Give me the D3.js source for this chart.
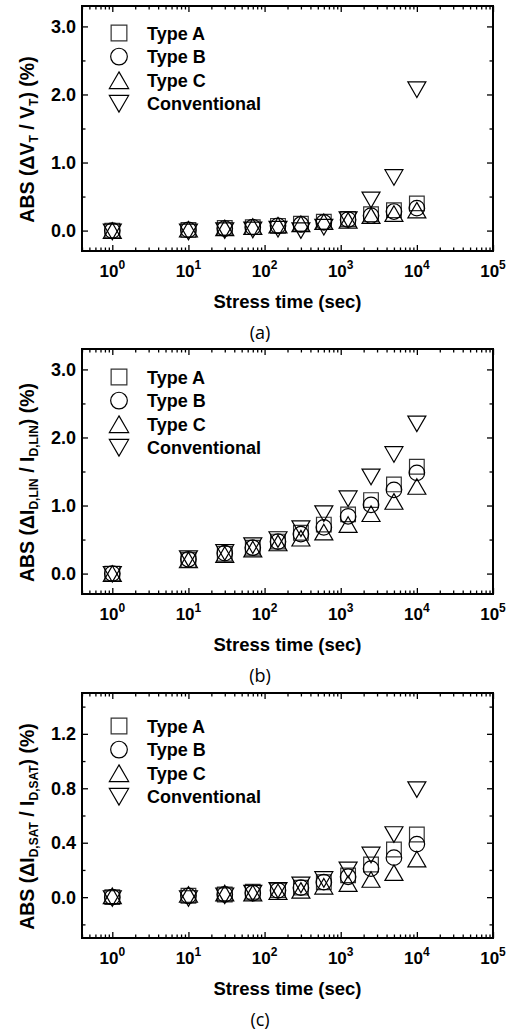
<!DOCTYPE html>
<html>
<head>
<meta charset="utf-8">
<script src="https://cdn.jsdelivr.net/npm/d3@7"></script>
<style>
  body { margin: 0; background: #fff; }
  text { font-family: "Liberation Sans", Arial, sans-serif; font-weight: bold; fill: #000; }
  .panel-tag { font-family: "Open Sans", sans-serif; font-weight: normal; }
  .tick line { stroke: #000; stroke-width: 1.3; }
</style>
</head>
<body>
<svg id="chart" width="511" height="1032"></svg>
<script>
// ---- data ----
const stressTimes = [1, 10, 30, 70, 150, 300, 600, 1250, 2500, 5000, 10000];
const seriesNames = ['Type A', 'Type B', 'Type C', 'Conventional'];

// (a) ABS(dVT/VT) %
const vtTypeA = [0, 0.01, 0.04, 0.05, 0.07, 0.10, 0.13, 0.17, 0.24, 0.30, 0.40];
const vtTypeB = [0, 0.01, 0.03, 0.05, 0.07, 0.09, 0.12, 0.16, 0.22, 0.28, 0.33];
const vtTypeC = [0, 0.02, 0.04, 0.06, 0.08, 0.10, 0.13, 0.15, 0.22, 0.25, 0.30];
const vtConv  = [-0.02, -0.02, 0.0, 0.01, 0.02, 0.0, 0.05, 0.16, 0.45, 0.78, 2.07];

// (b) ABS(dID,LIN/ID,LIN) %
const linTypeA = [0, 0.20, 0.29, 0.38, 0.47, 0.60, 0.72, 0.87, 1.08, 1.31, 1.57];
const linTypeB = [0, 0.21, 0.30, 0.38, 0.47, 0.58, 0.68, 0.84, 1.01, 1.23, 1.48];
const linTypeC = [0, 0.20, 0.28, 0.36, 0.45, 0.52, 0.61, 0.72, 0.88, 1.06, 1.28];
const linConv  = [-0.01, 0.22, 0.31, 0.41, 0.50, 0.66, 0.88, 1.10, 1.42, 1.75, 2.20];

// (c) ABS(dID,SAT/ID,SAT) %
const satTypeA = [0, 0.01, 0.02, 0.04, 0.05, 0.07, 0.11, 0.16, 0.24, 0.35, 0.46];
const satTypeB = [0, 0.01, 0.02, 0.03, 0.05, 0.07, 0.11, 0.15, 0.21, 0.29, 0.39];
const satTypeC = [0.01, 0.02, 0.03, 0.03, 0.04, 0.05, 0.08, 0.10, 0.13, 0.18, 0.28];
const satConv  = [-0.01, -0.01, 0.01, 0.03, 0.05, 0.09, 0.13, 0.20, 0.31, 0.46, 0.79];

const xTickExps = [0, 1, 2, 3, 4, 5];
const yTicksWide = [0, 1, 2, 3];
const yMinorWide = [0.5, 1.5, 2.5];
const yTicksSat = [0, 0.4, 0.8, 1.2];
const yMinorSat = [-0.2, 0.2, 0.6, 1.0, 1.4];

// ---- layout ----
const LEFT = 82;
const W = 411;
const H = 245;

const svg = d3.select('#chart');

const symbolTypes = [
  { type: d3.symbolSquare, size: 215, rot: 0 },
  { type: d3.symbolCircle, size: 190, rot: 0 },
  { type: d3.symbolTriangle, size: 140, rot: 0 },
  { type: d3.symbolTriangle, size: 140, rot: 180 },
];

// d3 centres triangles on the centroid; shift so the bounding box is centred (like Origin)
function symbolShift(st, size) {
  if (st.type !== d3.symbolTriangle) return 0;
  return Math.sqrt(size / (3 * Math.sqrt(3))) / 2;
}

function markerTransform(cx, cy, st, size) {
  return 'translate(' + cx + ',' + cy + ') rotate(' + st.rot + ') translate(0,' + symbolShift(st, size) + ')';
}

function addRichText(sel, parts, size, subSize) {
  let shifted = false;
  parts.forEach((p) => {
    const t = sel.append('tspan').text(p.t);
    if (p.sub && !shifted) { t.attr('dy', 4).attr('font-size', subSize); shifted = true; }
    else if (p.sub) { t.attr('font-size', subSize); }
    else if (shifted) { t.attr('dy', -4).attr('font-size', size); shifted = false; }
    else { t.attr('font-size', size); }
  });
}

function drawPanel(p) {
  const g = svg.append('g').attr('transform', 'translate(' + LEFT + ',' + p.top + ')');

  const x = d3.scaleLog().domain([0.4, 1e5]).range([0, W]);
  const y = d3.scaleLinear().domain(p.yDomain).range([H, 0]);

  const majorX = xTickExps.map((e) => Math.pow(10, e));
  const minorX = [];
  for (let e = -1; e <= 4; e++) {
    for (let k = 2; k <= 9; k++) {
      const v = k * Math.pow(10, e);
      if (v >= 0.4 && v <= 1e5) minorX.push(v);
    }
  }

  // tick marks, all pointing inward
  const axes = [
    [d3.axisBottom(x).tickValues(majorX).tickSize(-6), 'translate(0,' + H + ')'],
    [d3.axisBottom(x).tickValues(minorX).tickSize(-3.5), 'translate(0,' + H + ')'],
    [d3.axisTop(x).tickValues(majorX).tickSize(-6), null],
    [d3.axisTop(x).tickValues(minorX).tickSize(-3.5), null],
    [d3.axisRight(y).tickValues(p.yMajor).tickSize(-6), 'translate(' + W + ',0)'],
    [d3.axisRight(y).tickValues(p.yMinor).tickSize(-3.5), 'translate(' + W + ',0)'],
    [d3.axisLeft(y).tickValues(p.yMinor).tickSize(-3.5), null],
  ];
  axes.forEach(([ax, tr]) => {
    const a = g.append('g').call(ax.tickFormat(''));
    if (tr) a.attr('transform', tr);
    a.select('.domain').remove();
  });

  const left = g.append('g')
    .call(d3.axisLeft(y).tickValues(p.yMajor).tickSize(-6).tickPadding(6).tickFormat(d3.format('.1f')));
  left.select('.domain').remove();
  left.selectAll('text')
    .attr('font-family', '"Liberation Sans", Arial, sans-serif')
    .attr('font-size', 18)
    .attr('font-weight', 'bold')
    .attr('dy', '0.34em');

  // x tick labels 10^n
  xTickExps.forEach((e) => {
    const t = g.append('text')
      .attr('x', x(Math.pow(10, e)))
      .attr('y', H + 26)
      .attr('text-anchor', 'middle');
    t.append('tspan').attr('font-size', 17).text('10');
    t.append('tspan').attr('font-size', 12).attr('dy', -8).text(e);
  });

  // frame
  g.append('rect')
    .attr('width', W).attr('height', H)
    .attr('fill', 'none').attr('stroke', '#000').attr('stroke-width', 2);

  // markers
  p.series.forEach((vals, si) => {
    const st = symbolTypes[si];
    const sym = d3.symbol().type(st.type).size(st.size);
    g.append('g').selectAll('path')
      .data(vals.map((v, i) => ({ t: stressTimes[i], v: v })))
      .enter().append('path')
      .attr('d', sym)
      .attr('transform', (d) => markerTransform(x(d.t), y(d.v), st, st.size))
      .attr('fill', 'none')
      .attr('stroke', si === 0 ? '#333' : '#000')
      .attr('stroke-width', 1.2);
  });

  // legend
  seriesNames.forEach((name, i) => {
    const st = symbolTypes[i];
    const ly = p.legendTop + i * 23.6;
    const lsize = st.size * 1.15;
    g.append('path')
      .attr('d', d3.symbol().type(st.type).size(lsize))
      .attr('transform', markerTransform(37, ly, st, lsize))
      .attr('fill', 'none')
      .attr('stroke', i === 0 ? '#333' : '#000')
      .attr('stroke-width', 1.2);
    g.append('text')
      .attr('x', 65).attr('y', ly + 6.5)
      .attr('font-size', 18)
      .text(name);
  });

  // axis titles
  g.append('text')
    .attr('x', W / 2).attr('y', H + 57)
    .attr('text-anchor', 'middle')
    .attr('font-size', 18.5)
    .text('Stress time (sec)');

  const yt = svg.append('text')
    .attr('text-anchor', 'middle')
    .attr('transform', 'translate(33.5,' + (p.top + H / 2 + 11) + ') rotate(-90)');
  addRichText(yt, p.yTitle, 19.5, 12);

  svg.append('text')
    .attr('class', 'panel-tag')
    .attr('x', 260).attr('y', p.top + H + 88)
    .attr('text-anchor', 'middle')
    .attr('font-size', 18)
    .text(p.tag);
}

drawPanel({
  top: 6, yDomain: [-0.3, 3.3], yMajor: yTicksWide, yMinor: yMinorWide,
  series: [vtTypeA, vtTypeB, vtTypeC, vtConv], legendTop: 27, tag: '(a)',
  yTitle: [{ t: 'ABS (\u0394V' }, { t: 'T', sub: true }, { t: ' / V' }, { t: 'T', sub: true }, { t: ') (%)' }],
});
drawPanel({
  top: 349, yDomain: [-0.3, 3.3], yMajor: yTicksWide, yMinor: yMinorWide,
  series: [linTypeA, linTypeB, linTypeC, linConv], legendTop: 28, tag: '(b)',
  yTitle: [{ t: 'ABS (\u0394I' }, { t: 'D,LIN', sub: true }, { t: ' / I' }, { t: 'D,LIN', sub: true }, { t: ') (%)' }],
});
drawPanel({
  top: 693, yDomain: [-0.3, 1.5], yMajor: yTicksSat, yMinor: yMinorSat,
  series: [satTypeA, satTypeB, satTypeC, satConv], legendTop: 33, tag: '(c)',
  yTitle: [{ t: 'ABS (\u0394I' }, { t: 'D,SAT', sub: true }, { t: ' / I' }, { t: 'D,SAT', sub: true }, { t: ') (%)' }],
});
</script>
</body>
</html>
